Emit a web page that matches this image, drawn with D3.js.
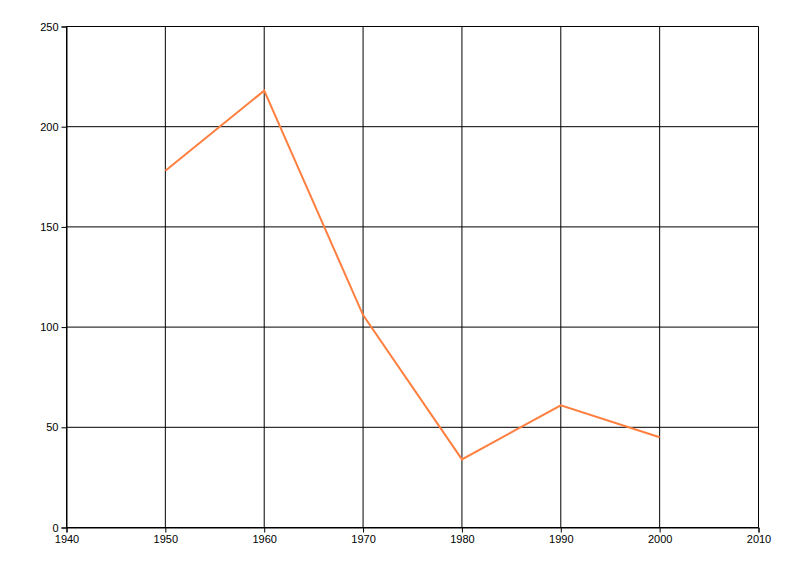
<!DOCTYPE html>
<html><head><meta charset="utf-8">
<script src="https://cdn.jsdelivr.net/npm/d3@7"></script>
<style>body{margin:0;background:#fff}svg{display:block}</style>
</head><body>
<svg id="c" width="800" height="576"></svg>
<script>
const years = [1950, 1960, 1970, 1980, 1990, 2000];
const values = [178, 218, 106, 34, 61, 45];
const xTicks = [1940, 1950, 1960, 1970, 1980, 1990, 2000, 2010];
const yTicks = [0, 50, 100, 150, 200, 250];

(function () {
const svg = d3.select("#c");
const mLeft = 66.5, mRight = 758.5, mTop = 26.5, mBottom = 527.5;
const x = d3.scaleLinear().domain([1940, 2010]).range([mLeft, mRight]);
const y = d3.scaleLinear().domain([0, 250]).range([mBottom, mTop]);

const g = svg.append("g");
g.selectAll(".vg").data(xTicks).enter().append("line")
  .attr("x1", d => x(d)).attr("x2", d => x(d)).attr("y1", mTop).attr("y2", mBottom)
  .attr("stroke", "#000").attr("stroke-width", 1);
g.selectAll(".hg").data(yTicks).enter().append("line")
  .attr("y1", d => y(d)).attr("y2", d => y(d)).attr("x1", mLeft).attr("x2", mRight)
  .attr("stroke", "#000").attr("stroke-width", 1);

const xAxis = d3.axisBottom(x).tickValues(xTicks).tickFormat(d3.format("d")).tickSize(5).tickPadding(3);
const yAxis = d3.axisLeft(y).tickValues(yTicks).tickSize(5).tickPadding(3);
const fontFam = "'Liberation Sans', Arial, sans-serif";
const ax = svg.append("g").attr("transform", `translate(0,${mBottom})`).call(xAxis);
const ay = svg.append("g").attr("transform", `translate(${mLeft},0)`).call(yAxis);
[ax, ay].forEach(a => {
  a.select(".domain").attr("stroke", "#000");
  a.selectAll(".tick line").attr("stroke", "#000");
  a.selectAll("text").attr("fill", "#000").style("font-family", fontFam).style("font-size", "11px");
});

const line = d3.line().x((d, i) => x(years[i])).y(d => y(d));
svg.append("path").datum(values).attr("d", line)
  .attr("fill", "none").attr("stroke", "#FF7F3F").attr("stroke-width", 2)
  .attr("stroke-linejoin", "miter");
})();
</script>
</body></html>
